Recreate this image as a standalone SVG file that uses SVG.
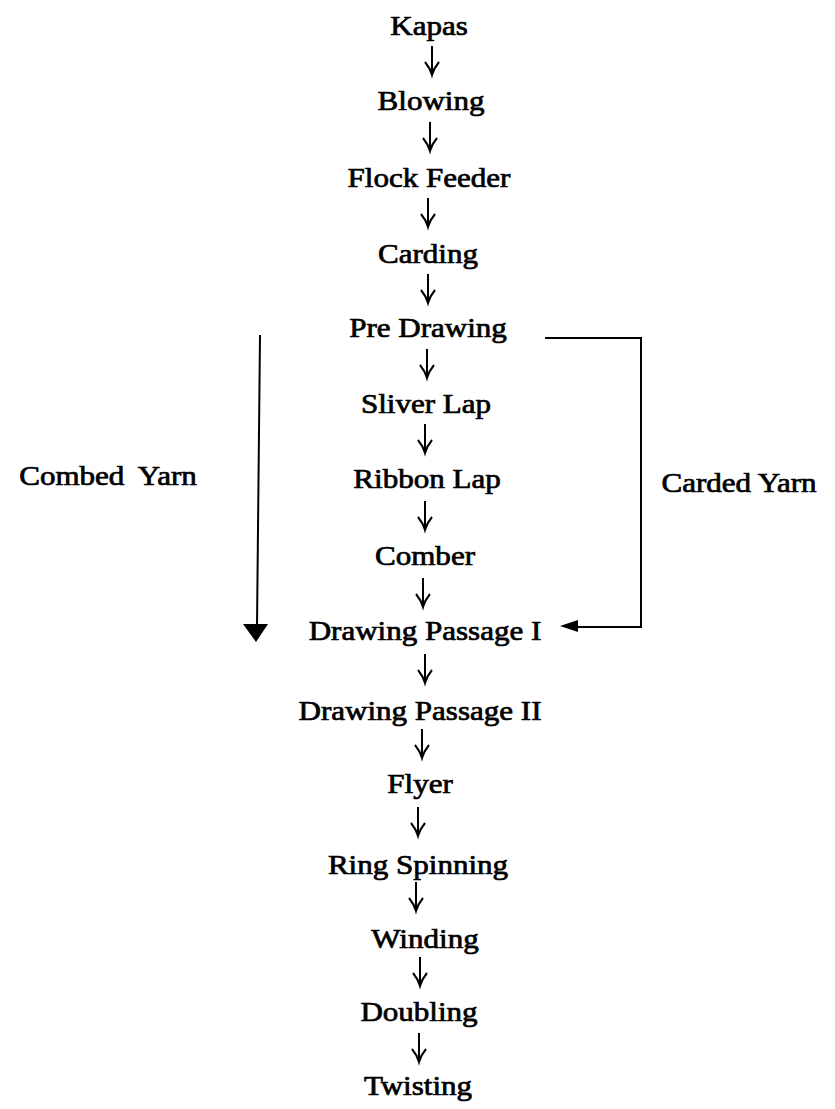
<svg xmlns="http://www.w3.org/2000/svg" width="835" height="1109" viewBox="0 0 835 1109">
<style>
  .t { font-family: "Liberation Serif", "Times New Roman", serif; font-size: 27px; fill: #000; stroke: #000; stroke-width: 0.7; text-anchor: middle; }
  .line { stroke: #000; stroke-width: 2; fill: none; }
  .head { fill: #000; stroke: none; }
</style>
<defs>
  <path id="dn" d="M0,-29 L0,-3 M-7,-13 Q-2,-7 0,0 Q2,-7 7,-13" stroke="#000" stroke-width="2" fill="none" stroke-linejoin="miter"/>
</defs>
<rect width="835" height="1109" fill="#fff"/>

<g id="connectors">
  <use href="#dn" x="432" y="75"/>
  <use href="#dn" x="430" y="151"/>
  <use href="#dn" x="428" y="227"/>
  <use href="#dn" x="428" y="303"/>
  <use href="#dn" x="427" y="378"/>
  <use href="#dn" x="425" y="453"/>
  <use href="#dn" x="425" y="530"/>
  <use href="#dn" x="423" y="607"/>
  <use href="#dn" x="425" y="683"/>
  <use href="#dn" x="422" y="758"/>
  <use href="#dn" x="418" y="836"/>
  <use href="#dn" x="416" y="911"/>
  <use href="#dn" x="420" y="986"/>
  <use href="#dn" x="419" y="1062"/>
  <!-- Combed yarn path -->
  <path class="line" d="M260,335 L257,626"/>
  <path class="head" d="M243,624 L268,624 L256,642 Z"/>
  <!-- Carded yarn path -->
  <path class="line" d="M545,338 L641,338 L641,627 L574,627"/>
  <path class="head" d="M560,626 L578,620 L578,632 Z"/>
</g>

<g id="kapas"><text class="t" transform="translate(429,35) scale(1.15,1)">Kapas</text></g>
<g id="blowing"><text class="t" transform="translate(431,110) scale(1.15,1)">Blowing</text></g>
<g id="flock-feeder"><text class="t" transform="translate(429,187) scale(1.15,1)">Flock Feeder</text></g>
<g id="carding"><text class="t" transform="translate(428,263) scale(1.15,1)">Carding</text></g>
<g id="pre-drawing"><text class="t" transform="translate(428,337) scale(1.15,1)">Pre Drawing</text></g>
<g id="sliver-lap"><text class="t" transform="translate(426,413) scale(1.15,1)">Sliver Lap</text></g>
<g id="ribbon-lap"><text class="t" transform="translate(427,488) scale(1.15,1)">Ribbon Lap</text></g>
<g id="comber"><text class="t" transform="translate(425,565) scale(1.15,1)">Comber</text></g>
<g id="drawing-passage-1"><text class="t" transform="translate(425,640) scale(1.15,1)">Drawing Passage I</text></g>
<g id="drawing-passage-2"><text class="t" transform="translate(420,720) scale(1.15,1)">Drawing Passage II</text></g>
<g id="flyer"><text class="t" transform="translate(420,793) scale(1.15,1)">Flyer</text></g>
<g id="ring-spinning"><text class="t" transform="translate(418,874) scale(1.15,1)">Ring Spinning</text></g>
<g id="winding"><text class="t" transform="translate(425,948) scale(1.15,1)">Winding</text></g>
<g id="doubling"><text class="t" transform="translate(419,1021) scale(1.15,1)">Doubling</text></g>
<g id="twisting"><text class="t" transform="translate(418,1095) scale(1.15,1)">Twisting</text></g>

<g id="combed-yarn"><text class="t" transform="translate(108,485) scale(1.15,1)" word-spacing="6">Combed Yarn</text></g>
<g id="carded-yarn"><text class="t" transform="translate(739,492) scale(1.15,1)">Carded Yarn</text></g>
</svg>
